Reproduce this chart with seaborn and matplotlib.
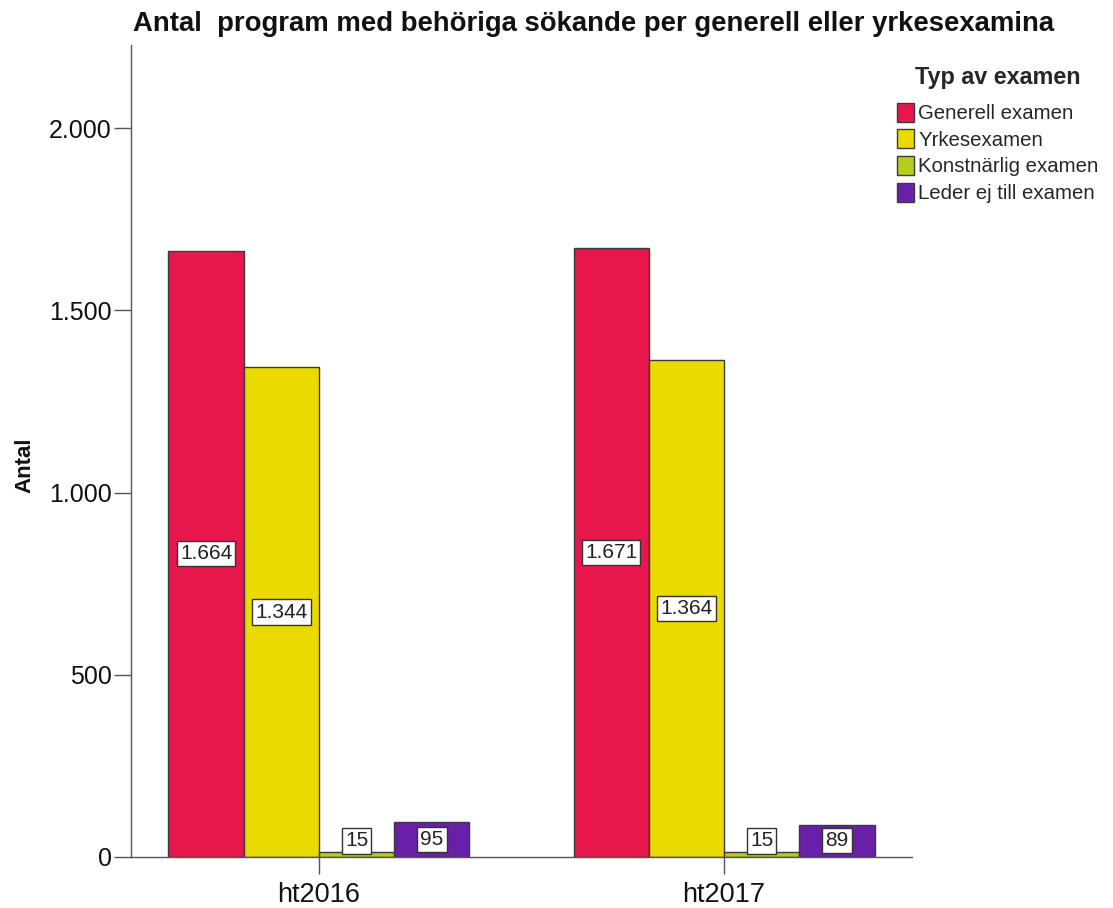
import numpy as np
import pandas as pd
import matplotlib
matplotlib.use("Agg")
import matplotlib.pyplot as plt
from matplotlib.ticker import FuncFormatter
import seaborn as sns

# data
terms = ["ht2016", "ht2017"]
exam_types = ["Generell examen", "Yrkesexamen", "Konstnärlig examen", "Leder ej till examen"]
generell = [1664, 1671]
yrkes = [1344, 1364]
konstnarlig = [15, 15]
leder_ej = [95, 89]
colors = ["#E8174B", "#EBDA00", "#B8CC1A", "#6A1FA8"]

rows = []
for vals, typ in zip([generell, yrkes, konstnarlig, leder_ej], exam_types):
    for term, v in zip(terms, vals):
        rows.append({"Termin": term, "Typ av examen": typ, "Antal": v})
df = pd.DataFrame(rows)

sns.set_style("white")
plt.rcParams["font.family"] = ["Liberation Sans", "DejaVu Sans"]

fig = plt.figure(figsize=(11.13, 9.08), dpi=100)
ax = fig.add_axes([0.1177, 0.0562, 0.7017, 0.8942])

sns.barplot(data=df, x="Termin", y="Antal", hue="Typ av examen",
            order=terms, hue_order=exam_types, palette=colors,
            width=0.743, gap=0, edgecolor="#3a3a3a", linewidth=1,
            errorbar=None, saturation=1, ax=ax)

ax.set_xlim(-0.464, 1.464)
ax.set_ylim(0, 2228)
ax.set_yticks([0, 500, 1000, 1500, 2000])
ax.yaxis.set_major_formatter(FuncFormatter(lambda v, p: f"{int(v):,}".replace(",", ".")))

for s in ["top", "right"]:
    ax.spines[s].set_visible(False)
for s in ["left", "bottom"]:
    ax.spines[s].set_color("#555555")
    ax.spines[s].set_linewidth(1)

ax.tick_params(axis="y", left=True, length=12, width=1, color="#555555",
               labelsize=18, labelcolor="#111111", pad=2)
ax.tick_params(axis="x", bottom=True, length=12, width=1, color="#555555",
               labelsize=19.5, labelcolor="#111111", pad=6)

ax.set_xlabel("")
ax.set_ylabel("Antal", fontsize=16, fontweight="bold", color="#111111")
ax.yaxis.set_label_coords(-0.123, 0.483)

# value labels in white boxes
for bar in ax.patches:
    h = bar.get_height()
    if h <= 0 or np.isnan(h):
        continue
    x = bar.get_x() + bar.get_width() / 2
    y = max(h / 2, 44)
    ax.text(x, y, f"{int(round(h)):,}".replace(",", "."), ha="center", va="center",
            fontsize=15, color="#222222",
            bbox=dict(boxstyle="square,pad=0.15", facecolor="white", edgecolor="#333333", linewidth=1))

handles, labels = ax.get_legend_handles_labels()
leg = ax.legend(handles, labels, title="Typ av examen", loc="upper left",
                bbox_to_anchor=(897 / 1113, 1 - 66 / 908), bbox_transform=fig.transFigure,
                frameon=False, fontsize=14.7, title_fontproperties={"weight": "bold", "size": 16.8},
                handlelength=0.85, handleheight=1.05, handletextpad=0.2, labelspacing=0.3,
                borderaxespad=0, borderpad=0)
leg._legend_box.sep = 10

fig.text(594 / 1113, 1 - 24 / 908, "Antal  program med behöriga sökande per generell eller yrkesexamina",
         ha="center", va="center", fontsize=19.8, fontweight="bold", color="#111111")

fig.savefig("out.png", dpi=100)
